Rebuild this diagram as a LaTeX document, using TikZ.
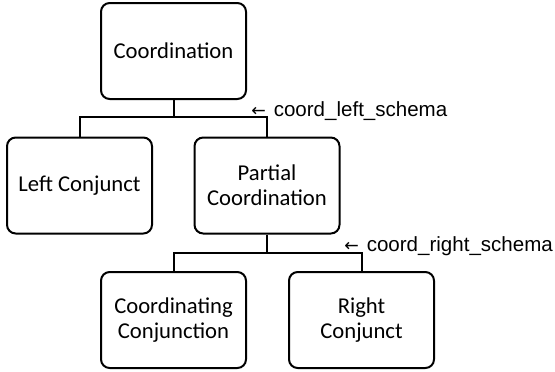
\documentclass[tikz,border=0pt]{standalone}
\usepackage{fontspec}
\newfontfamily\boxfont{Carlito}
\newfontfamily\labelfont{Liberation Sans}
\newfontfamily\arrowfont{DejaVu Sans}
\usepackage{tikz}

\newcommand{\leftarr}{{\arrowfont\fontsize{13}{15}\selectfont ←}\hspace{6pt}}

\tikzset{
  catbox/.style={draw, line width=1.5pt, rounded corners=6.5pt, minimum width=108.75pt, minimum height=72pt, align=center, inner sep=0pt, font=\boxfont\fontsize{17}{18.75}\selectfont},
  schemalabel/.style={anchor=west, inner sep=0pt, font=\labelfont\fontsize{15.4}{17}\selectfont},
  branch/.style={line width=1.5pt}
}

\begin{document}
\begin{tikzpicture}[x=0.75pt,y=0.75pt,yscale=-1,xscale=1]
\path (0,0) rectangle (555,371); %set diagram size 555 x 371

% Boxes
\node [catbox] (coord) at (173.5,51) {Coordination};
\node [catbox] (leftconj) at (79.5,185.5) {Left Conjunct};
\node [catbox] (partial) at (267,185.5) {Partial\\Coordination};
\node [catbox] (cconj) at (173.5,320) {Coordinating\\Conjunction};
\node [catbox] (rightconj) at (361.5,320) {Right\\Conjunct};

% Forks
\coordinate (forkleft) at (173.5,117);
\coordinate (forkright) at (267,253);
\draw [branch] (coord) -- (forkleft);
\draw [branch] (leftconj.north) |- (forkleft) -| (partial.north);
\draw [branch] (partial) -- (forkright);
\draw [branch] (cconj.north) |- (forkright) -| (rightconj.north);

% Schema labels
\node [schemalabel] (leftschema) at (251,111) {\leftarr coord\_left\_schema};
\node [schemalabel] (rightschema) at (344,246) {\leftarr coord\_right\_schema};

\end{tikzpicture}
\end{document}
